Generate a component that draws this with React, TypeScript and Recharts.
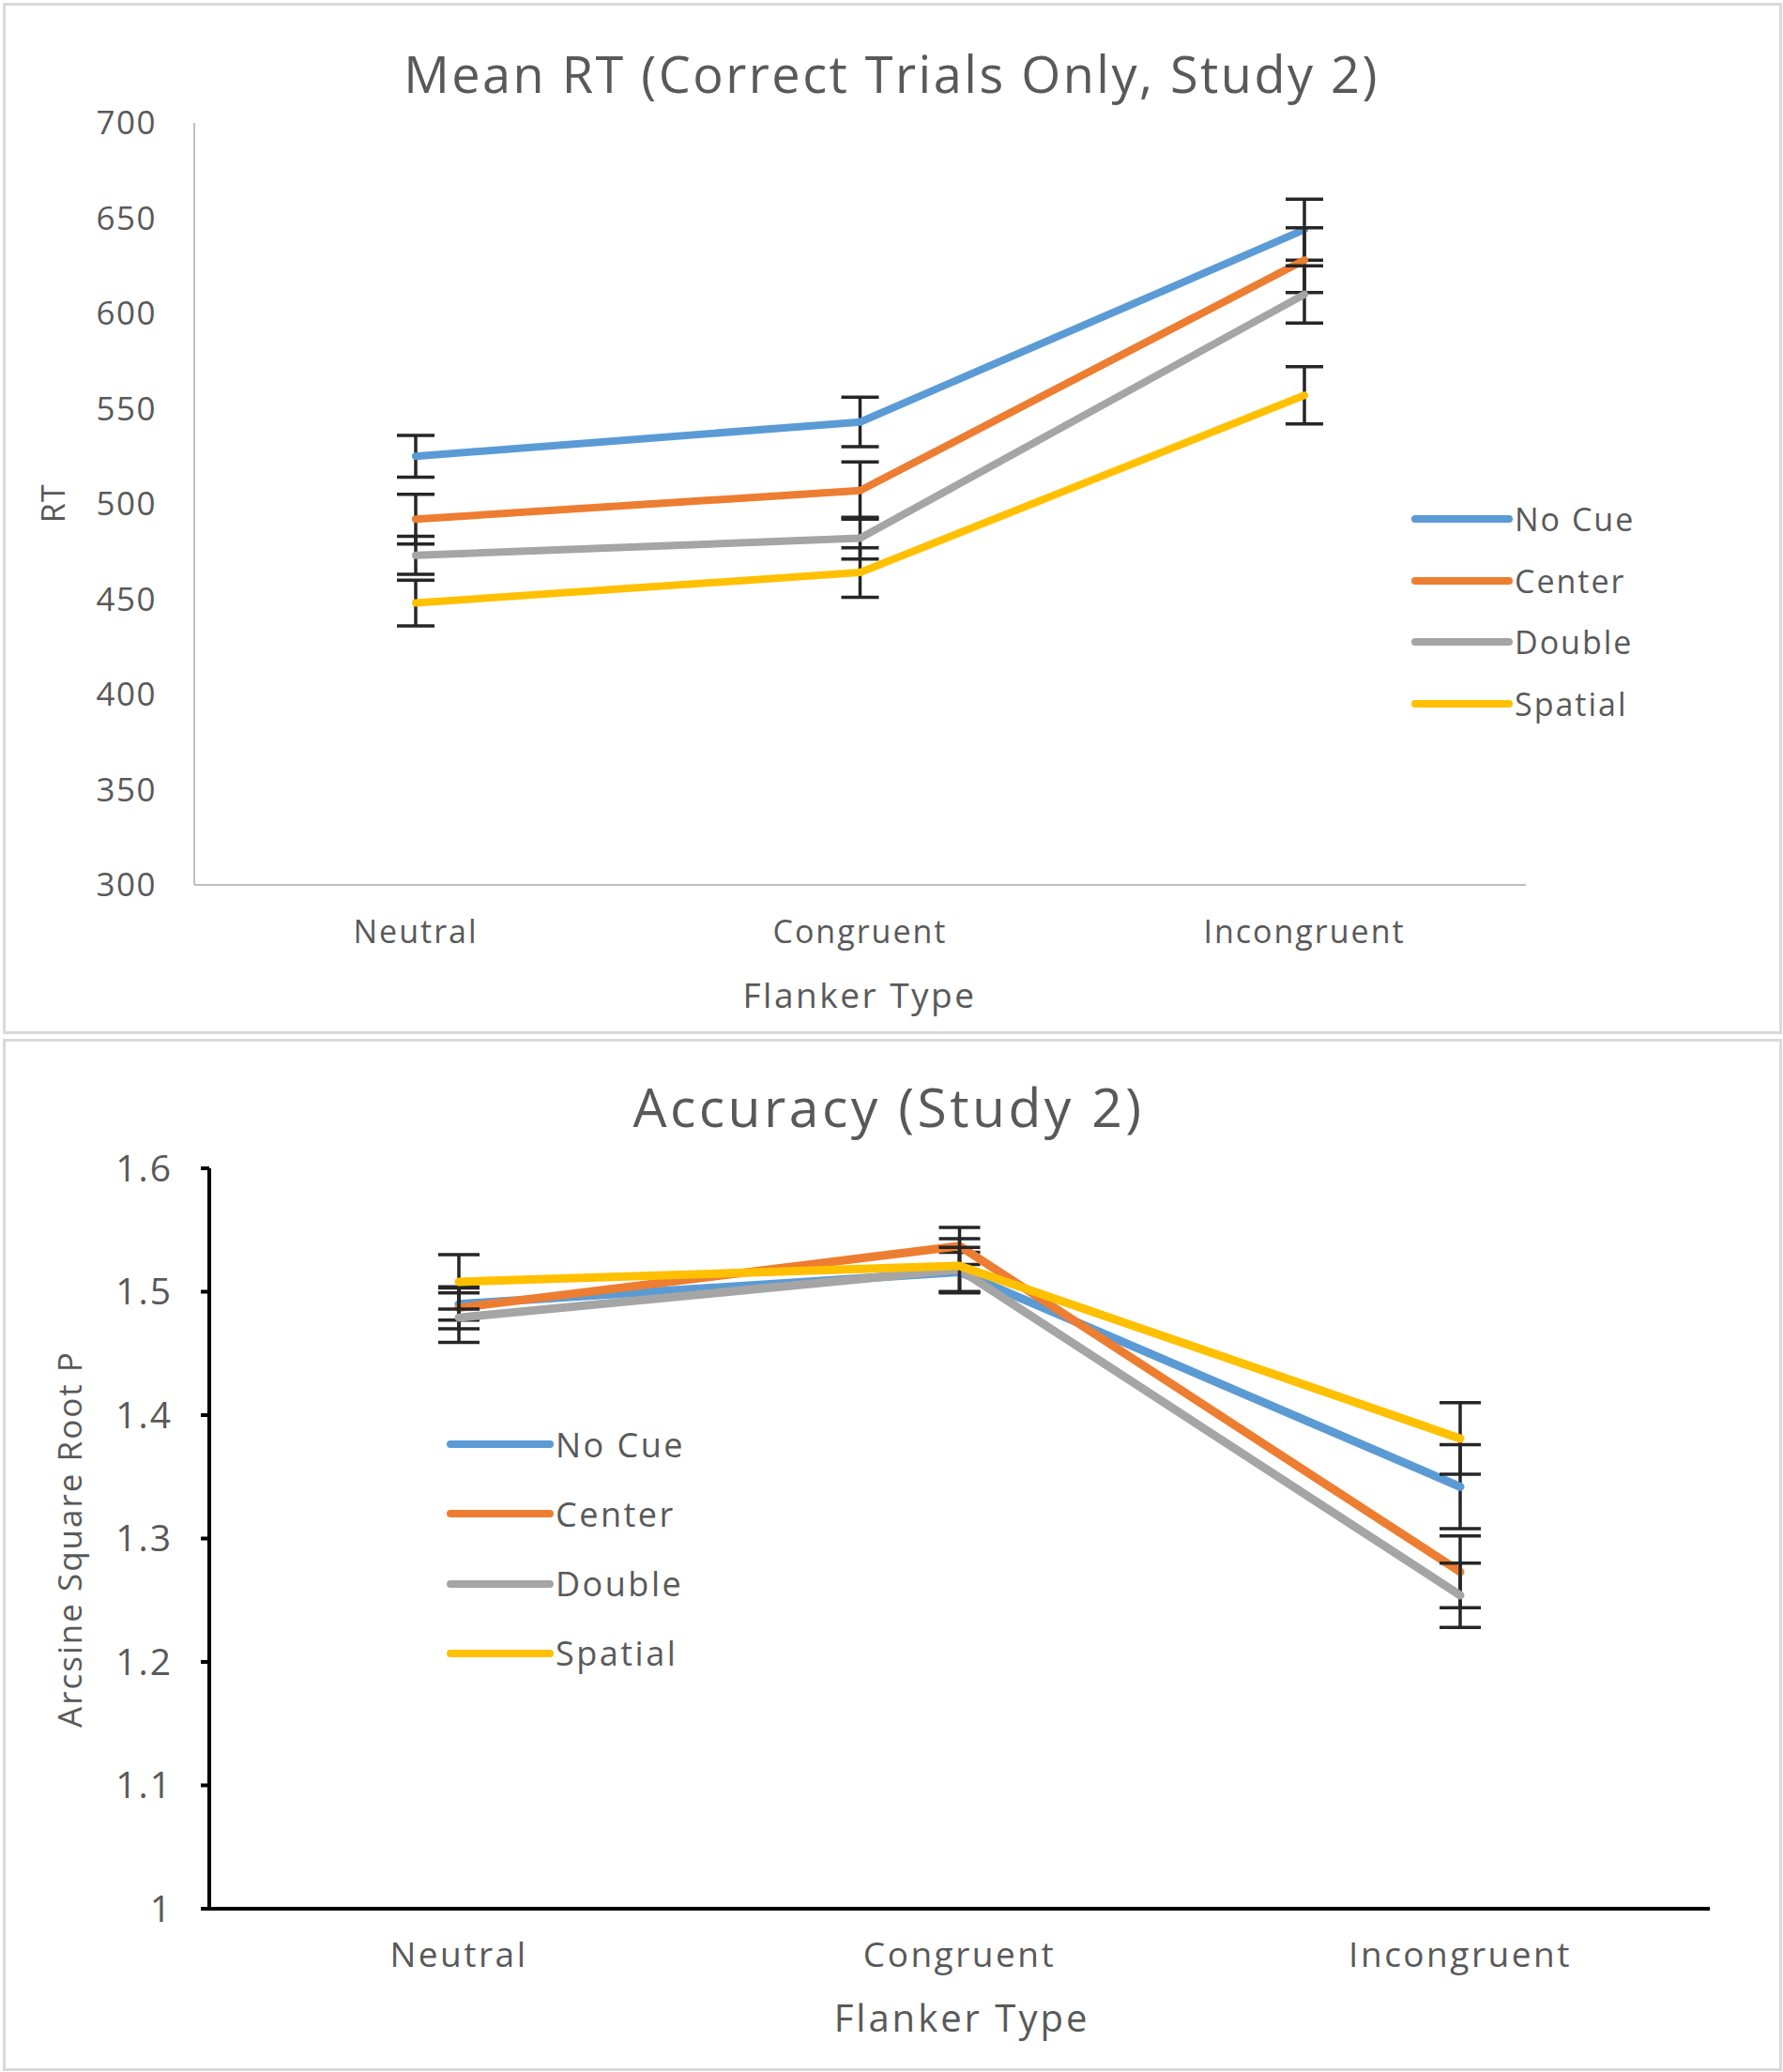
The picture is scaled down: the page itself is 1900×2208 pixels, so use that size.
import React from 'react';
import { LineChart, Line, XAxis, YAxis, ErrorBar } from 'recharts';

// categories
const flankerTypes = ['Neutral', 'Congruent', 'Incongruent'];

// Mean RT (Study 2)
const rtNoCue = [525, 543, 644];
const rtNoCueErr = [11, 13, 16];
const rtCenter = [492, 507, 628];
const rtCenterErr = [13, 15, 17];
const rtDouble = [473, 482, 610];
const rtDoubleErr = [10, 11, 15];
const rtSpatial = [448, 464, 557];
const rtSpatialErr = [12, 13, 15];
const rtTicks = [300, 350, 400, 450, 500, 550, 600, 650, 700];

// Accuracy (Study 2)
const accNoCue = [1.49, 1.516, 1.342];
const accNoCueErr = [0.013, 0.016, 0.034];
const accCenter = [1.487, 1.537, 1.273];
const accCenterErr = [0.017, 0.015, 0.029];
const accDouble = [1.479, 1.518, 1.254];
const accDoubleErr = [0.02, 0.018, 0.026];
const accSpatial = [1.508, 1.521, 1.381];
const accSpatialErr = [0.022, 0.022, 0.029];
const accTicks = [1, 1.1, 1.2, 1.3, 1.4, 1.5, 1.6];

const seriesNames = ['No Cue', 'Center', 'Double', 'Spatial'];
const seriesKeys = ['noCue', 'center', 'double', 'spatial'];
const colors = ['#5B9BD5', '#ED7D31', '#A5A5A5', '#FFC000'];

const rtData = flankerTypes.map((type, i) => ({
  type,
  noCue: rtNoCue[i], noCueErr: rtNoCueErr[i],
  center: rtCenter[i], centerErr: rtCenterErr[i],
  double: rtDouble[i], doubleErr: rtDoubleErr[i],
  spatial: rtSpatial[i], spatialErr: rtSpatialErr[i],
}));

const accData = flankerTypes.map((type, i) => ({
  type,
  noCue: accNoCue[i], noCueErr: accNoCueErr[i],
  center: accCenter[i], centerErr: accCenterErr[i],
  double: accDouble[i], doubleErr: accDoubleErr[i],
  spatial: accSpatial[i], spatialErr: accSpatialErr[i],
}));

const FONT = '"Open Sans", "Noto Sans", sans-serif';
const TEXT = '#595959';

function Txt({ x, y, size, children, rotate = false, spacing = 1 }: any) {
  return (
    <div
      style={{
        position: 'absolute', left: x, top: y, whiteSpace: 'nowrap',
        transform: `translate(-50%, -50%)${rotate ? ' rotate(-90deg)' : ''}`,
        fontFamily: FONT, fontSize: size, color: TEXT, letterSpacing: spacing, lineHeight: 1,
      }}
    >
      {children}
    </div>
  );
}

function LegendBox({ x, y, gap, lineW, size, spacing }: any) {
  return (
    <div style={{ position: 'absolute', left: x, top: y }}>
      {seriesNames.map((name, i) => (
        <div key={name} style={{ position: 'absolute', left: 0, top: i * gap - 20, height: 40, display: 'flex', alignItems: 'center', whiteSpace: 'nowrap' }}>
          <svg width={lineW + 8} height={12} style={{ display: 'block' }}>
            <line x1={4} y1={6} x2={lineW + 4} y2={6} stroke={colors[i]} strokeWidth={8} strokeLinecap="round" />
          </svg>
          <span style={{ fontFamily: FONT, fontSize: size, color: TEXT, letterSpacing: spacing, marginLeft: 2 }}>{name}</span>
        </div>
      ))}
    </div>
  );
}

const panelBorder = { position: 'absolute' as const, border: '3px solid #d9d9d9', boxSizing: 'border-box' as const, pointerEvents: 'none' as const };

export default function App() {
  return (
    <div style={{ position: 'absolute', left: 0, top: 0, width: 1900, height: 2208, background: '#fff', overflow: 'hidden' }}>
      {/* top chart: Mean RT */}
      <div style={{ position: 'absolute', left: 4, top: 4 }}>
        <LineChart width={1894} height={1097} data={rtData} margin={{ top: 127, right: 272, left: 0, bottom: 0 }}>
          <XAxis
            dataKey="type"
            height={158}
            padding={{ left: 236, right: 236 }}
            axisLine={{ stroke: '#bfbfbf', strokeWidth: 2 }}
            tickLine={false}
            tickSize={0}
            tickMargin={38}
            tick={{ fill: TEXT, fontSize: 34, fontFamily: FONT, letterSpacing: 2 }}
          />
          <YAxis
            width={203}
            domain={[300, 700]}
            ticks={rtTicks}
            interval={0}
            axisLine={{ stroke: '#bfbfbf', strokeWidth: 2 }}
            tickLine={false}
            tickSize={0}
            tickMargin={40}
            tick={{ fill: TEXT, fontSize: 35, fontFamily: FONT, letterSpacing: 1.5 }}
          />
          {seriesKeys.map((k, i) => (
            <Line
              key={k}
              dataKey={k}
              name={seriesNames[i]}
              stroke={colors[i]}
              strokeWidth={8}
              strokeLinejoin="round"
              strokeLinecap="round"
              dot={false}
              activeDot={false}
              isAnimationActive={false}
            >
              <ErrorBar dataKey={`${k}Err`} direction="y" width={20} strokeWidth={3.5} stroke="#262626" isAnimationActive={false} />
            </Line>
          ))}
        </LineChart>
      </div>
      <div style={{ ...panelBorder, left: 3, top: 3, width: 1896, height: 1099 }} />
      <Txt x={950} y={78} size={54} spacing={2.5}>Mean RT (Correct Trials Only, Study 2)</Txt>
      <Txt x={56} y={536} size={34} spacing={1.5} rotate>RT</Txt>
      <Txt x={916} y={1059} size={37} spacing={2.5}>Flanker Type</Txt>
      <LegendBox x={1504} y={553} gap={65.5} lineW={100} size={34} spacing={2} />

      {/* bottom chart: Accuracy */}
      <div style={{ position: 'absolute', left: 4, top: 1108 }}>
        <LineChart width={1894} height={1098} data={accData} margin={{ top: 137, right: 76, left: 0, bottom: 0 }}>
          <XAxis
            dataKey="type"
            height={172}
            padding={{ left: 266, right: 266 }}
            axisLine={{ stroke: '#000', strokeWidth: 4 }}
            tickLine={false}
            tickSize={0}
            tickMargin={36}
            tick={{ fill: TEXT, fontSize: 37, fontFamily: FONT, letterSpacing: 2.5 }}
          />
          <YAxis
            width={219}
            domain={[1, 1.6]}
            ticks={accTicks}
            interval={0}
            tickFormatter={(v: number) => String(v)}
            axisLine={{ stroke: '#000', strokeWidth: 4 }}
            tickLine={{ stroke: '#000', strokeWidth: 4 }}
            tickSize={9}
            tickMargin={30}
            tick={{ fill: TEXT, fontSize: 39, fontFamily: FONT, letterSpacing: 2 }}
          />
          {seriesKeys.map((k, i) => (
            <Line
              key={k}
              dataKey={k}
              name={seriesNames[i]}
              stroke={colors[i]}
              strokeWidth={9}
              strokeLinejoin="round"
              strokeLinecap="round"
              dot={false}
              activeDot={false}
              isAnimationActive={false}
            >
              <ErrorBar dataKey={`${k}Err`} direction="y" width={22} strokeWidth={3.5} stroke="#262626" isAnimationActive={false} />
            </Line>
          ))}
        </LineChart>
      </div>
      <div style={{ ...panelBorder, left: 3, top: 1107, width: 1896, height: 1100 }} />
      <Txt x={947} y={1179} size={57} spacing={3.5}>Accuracy (Study 2)</Txt>
      <Txt x={73} y={1640} size={35} spacing={2} rotate>Arcsine Square Root P</Txt>
      <Txt x={1025} y={2150} size={40} spacing={3}>Flanker Type</Txt>
      <LegendBox x={476} y={1539} gap={74.3} lineW={106} size={36} spacing={2.5} />
    </div>
  );
}
